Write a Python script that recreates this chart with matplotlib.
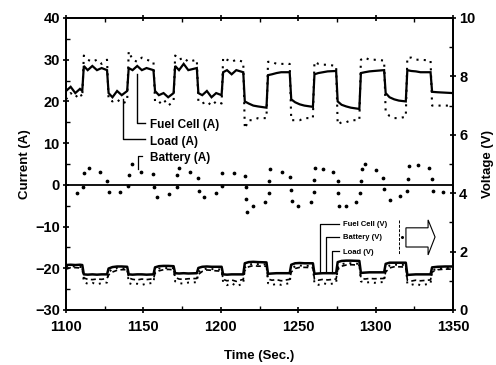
import matplotlib
matplotlib.use("Agg")
import matplotlib.pyplot as plt
from matplotlib.patches import Polygon
from matplotlib.ticker import MultipleLocator

plt.rcParams['font.family'] = ['Liberation Sans', 'DejaVu Sans']
plt.rcParams['font.weight'] = 'bold'

# sample times (s), dense around each load step
time_s = [1100, 1103, 1106, 1109, 1110.5,
          1111.5, 1114, 1117, 1120, 1123, 1126.5,
          1127.5, 1130, 1133, 1136, 1139.5,
          1140.5, 1143, 1146, 1149, 1152, 1156.5,
          1157.5, 1160, 1163, 1166, 1169.5,
          1170.5, 1173, 1176, 1179, 1184.5,
          1185.5, 1188, 1191, 1194, 1197, 1200.5,
          1201.5, 1204, 1207, 1210, 1214.5,
          1215.5, 1218, 1221, 1224, 1229.5,
          1230.5, 1233, 1236, 1239, 1244.5,
          1245.5, 1248, 1251, 1254, 1259.5,
          1260.5, 1263, 1266, 1269, 1274.5,
          1275.5, 1278, 1281, 1284, 1289.5,
          1290.5, 1293, 1296, 1299, 1305.5,
          1306.5, 1309, 1312, 1315, 1319.5,
          1320.5, 1323, 1326, 1329, 1335.5,
          1336.5, 1340, 1345, 1350]

# currents (A)
fuel_cell_a = [22.5, 23.5, 22, 23, 22.5,
               28.5, 27.5, 28.5, 27.5, 28, 27.5,
               22, 21, 22.5, 21.5, 22.5,
               28, 27.5, 28.5, 27.5, 28, 27.5,
               22.5, 21.5, 22, 21, 22,
               28.5, 27.5, 29, 27.5, 28,
               22, 21.5, 22.5, 21, 22, 21.5,
               27, 27.5, 26.5, 27.5, 27,
               20, 19.5, 19, 18.8, 18.5,
               26.3, 26.5, 26.8, 27, 27,
               20.5, 19.8, 19.3, 19, 18.7,
               26.5, 26.8, 27, 27.2, 27.3,
               20, 19.2, 18.8, 18.5, 18.2,
               26.8, 27, 27.2, 27.3, 27.5,
               22, 21, 20.5, 20.2, 20,
               27.5, 27.3, 27.2, 27, 27,
               22.3, 22.2, 22.1, 22]

load_a = [20.5, 22, 21, 22, 21,
          31, 30, 29.5, 30, 29, 30,
          20.5, 20, 20.5, 19.5, 20,
          32, 30, 29.5, 30.5, 30, 29.5,
          20, 19.5, 20.5, 19, 20,
          31, 30, 30.5, 29.5, 30,
          20, 19.5, 20, 19, 20, 19.5,
          30.5, 30, 29.5, 30, 29.5,
          13.5, 15.5, 15.5, 16, 16,
          29.5, 29.5, 29, 29, 29,
          15.5, 15.5, 15.5, 16, 16,
          29.5, 29, 28.8, 28.8, 28.5,
          14.5, 15, 15, 15.5, 15.5,
          30, 30.5, 30, 30, 29.8,
          17.5, 16.5, 16, 16, 16.3,
          30.5, 30.5, 30, 30, 29.8,
          19, 19, 19, 19]

battery_t = [1107, 1111, 1111.6, 1115, 1122, 1126.7, 1127.7, 1135, 1140, 1140.7,
             1142.4, 1148.4, 1156, 1157, 1158.5, 1166.5, 1171.5, 1172, 1173, 1180,
             1185, 1186, 1189, 1197, 1200.5, 1201, 1208.7, 1215.6, 1216, 1216.3,
             1216.6, 1221, 1228.5, 1231, 1231.3, 1232, 1239.7, 1245, 1245.5, 1246,
             1250, 1258, 1260, 1260.5, 1261, 1265.7, 1272.6, 1275.4, 1275.8, 1276.5,
             1280.7, 1287.2, 1289.8, 1290.5, 1291, 1293, 1300.5, 1305, 1305.7, 1309,
             1315.6, 1320, 1320.8, 1321.6, 1327.5, 1334.4, 1336.5, 1337, 1343.7]
battery_a = [-2.0, -0.4, 2.8, 4.0, 3.0, 1.0, -1.8, -1.8, -0.3, 2.4,
             5.0, 3.2, 2.6, -0.5, -2.8, -2.1, -0.5, 2.4, 4.0, 3.0,
             1.6, -1.4, -2.8, -2.0, -0.2, 2.9, 2.9, 2.2, -0.6, -3.5,
             -6.5, -5.0, -4.0, -2.0, 1.0, 3.8, 3.2, 1.8, -1.2, -3.8,
             -5.0, -4.0, -1.7, 1.2, 4.1, 3.8, 3.2, 1.0, -2.0, -5.0,
             -5.0, -4.0, -2.0, 1.0, 3.8, 5.0, 3.5, 1.6, -1.1, -3.6,
             -2.7, -1.4, 1.5, 4.6, 4.8, 4.0, 1.4, -1.5, -1.8]

# voltages (V), right axis
fuel_cell_v = [1.54, 1.55, 1.54, 1.55, 1.54,
               1.22, 1.21, 1.22, 1.21, 1.22, 1.22,
               1.42, 1.47, 1.49, 1.49, 1.48,
               1.22, 1.21, 1.22, 1.22, 1.21, 1.22,
               1.46, 1.5, 1.51, 1.51, 1.5,
               1.26, 1.25, 1.26, 1.25, 1.26,
               1.44, 1.48, 1.49, 1.48, 1.48, 1.48,
               1.22, 1.21, 1.22, 1.22, 1.22,
               1.6, 1.64, 1.65, 1.64, 1.63,
               1.24, 1.25, 1.26, 1.26, 1.26,
               1.55, 1.6, 1.61, 1.6, 1.6,
               1.24, 1.25, 1.26, 1.26, 1.26,
               1.64, 1.68, 1.69, 1.69, 1.68,
               1.27, 1.28, 1.29, 1.29, 1.29,
               1.58, 1.62, 1.62, 1.62, 1.62,
               1.2, 1.21, 1.22, 1.22, 1.22,
               1.46, 1.48, 1.49, 1.49]

battery_v = [1.4, 1.45, 1.45, 1.44, 1.42,
             1.1, 1.05, 1.04, 1.06, 1.05, 1.08,
             1.2, 1.3, 1.36, 1.38, 1.38,
             1.1, 1.05, 1.03, 1.06, 1.04, 1.07,
             1.25, 1.34, 1.38, 1.39, 1.38,
             1.12, 1.06, 1.05, 1.07, 1.08,
             1.22, 1.32, 1.37, 1.36, 1.34, 1.33,
             1.05, 1.0, 1.03, 0.98, 1.05,
             1.35, 1.48, 1.52, 1.5, 1.5,
             1.06, 1.02, 1.04, 1.0, 1.05,
             1.3, 1.42, 1.46, 1.46, 1.45,
             1.05, 1.02, 1.05, 1.03, 1.06,
             1.38, 1.5, 1.54, 1.55, 1.54,
             1.1, 1.06, 1.08, 1.07, 1.08,
             1.3, 1.44, 1.48, 1.48, 1.47,
             1.02, 0.99, 1.02, 1.0, 1.03,
             1.3, 1.38, 1.4, 1.4]

load_v = [1.5, 1.48, 1.5, 1.47, 1.48,
          0.95, 0.9, 0.93, 0.88, 0.92, 0.94,
          1.3, 1.4, 1.44, 1.42, 1.43,
          0.92, 0.88, 0.9, 0.86, 0.9, 0.93,
          1.35, 1.42, 1.43, 1.44, 1.43,
          0.98, 0.92, 0.9, 0.94, 0.95,
          1.3, 1.38, 1.42, 1.4, 1.4, 1.38,
          0.95, 0.85, 0.92, 0.82, 0.9,
          1.45, 1.55, 1.58, 1.57, 1.56,
          0.92, 0.85, 0.9, 0.86, 0.92,
          1.4, 1.5, 1.52, 1.52, 1.5,
          0.9, 0.86, 0.92, 0.88, 0.92,
          1.45, 1.57, 1.6, 1.6, 1.58,
          0.98, 0.94, 0.95, 0.93, 0.96,
          1.4, 1.52, 1.55, 1.55, 1.54,
          0.9, 0.86, 0.9, 0.85, 0.9,
          1.35, 1.42, 1.44, 1.44]

fig = plt.figure(figsize=(4.96, 3.65), dpi=100)
ax = fig.add_axes([0.1331, 0.1507, 0.7802, 0.8])
ax2 = ax.twinx()

# current traces
ax.plot(time_s, fuel_cell_a, color='black', lw=1.6, solid_joinstyle='miter')
ax.plot(time_s, load_a, color='black', lw=1.5, linestyle=(0, (1, 2.5)))
ax.plot(battery_t, battery_a, 'o', color='black', ms=1.7)
ax.axhline(0, color='black', lw=1.3)

# voltage traces
ax2.plot(time_s, fuel_cell_v, color='black', lw=1.8)
ax2.plot(time_s, battery_v, color='black', lw=1.2, linestyle=(0, (3, 2)))
ax2.plot(time_s, load_v, color='black', lw=1.4, linestyle=(0, (1, 2.5)))

ax.set_xlim(1100, 1350)
ax.set_ylim(-30, 40)
ax2.set_ylim(0, 10)
ax.xaxis.set_major_locator(MultipleLocator(50))
ax.xaxis.set_minor_locator(MultipleLocator(25))
ax.yaxis.set_major_locator(MultipleLocator(10))
ax.yaxis.set_minor_locator(MultipleLocator(5))
ax2.yaxis.set_major_locator(MultipleLocator(2))
ax2.yaxis.set_minor_locator(MultipleLocator(1))

ax.tick_params(which='major', direction='inout', length=5, width=1.2,
               labelsize=10.5, top=True, pad=2)
ax.tick_params(axis='x', which='major', pad=5)
ax.tick_params(which='minor', direction='in', length=3, width=1, top=True)
ax2.tick_params(which='major', direction='inout', length=5, width=1.2,
                labelsize=10.5, pad=2)
ax2.tick_params(which='minor', direction='in', length=3, width=1)
for a in (ax, ax2):
    for s in a.spines.values():
        s.set_linewidth(1.3)

ax.set_xlabel('Time (Sec.)', fontsize=9.5, fontweight='bold', labelpad=11)
ax.set_ylabel('Current (A)', fontsize=9.5, fontweight='bold', labelpad=3)
ax2.set_ylabel('Voltage (V)', fontsize=9.5, fontweight='bold', rotation=90, labelpad=5)

# upper labels with leader lines
lk = dict(color='black', lw=1.0)
ax.plot([1145.6, 1145.6, 1151], [26.5, 14.8, 14.8], **lk)
ax.plot([1136.6, 1136.6, 1151], [20.5, 11.0, 11.0], **lk)
ax.plot([1149, 1146.3, 1146.3], [6.9, 6.9, 3.8], color='black', lw=0.9)
ax.text(1154, 14.3, 'Fuel Cell (A)', fontsize=8.5, va='center')
ax.text(1154, 10.3, 'Load (A)', fontsize=8.5, va='center')
ax.text(1154, 6.4, 'Battery (A)', fontsize=8.5, va='center')

# lower labels with leader lines
ax.plot([1264, 1264, 1276.5], [-20.9, -9.4, -9.4], color='black', lw=0.9)
ax.plot([1268, 1268, 1276.5], [-21.0, -12.5, -12.5], color='black', lw=0.9)
ax.plot([1271.8, 1271.8, 1276.5], [-21.1, -15.9, -15.9], color='black', lw=0.9)
ax.text(1279, -9.6, 'Fuel Cell (V)', fontsize=5.5, va='center')
ax.text(1279, -12.7, 'Battery (V)', fontsize=5.5, va='center')
ax.text(1279, -16.1, 'Load (V)', fontsize=5.5, va='center')
ax.plot([1315, 1315], [-8.4, -16.8], color='black', lw=0.7, linestyle=(0, (3, 1.5)))
ax.plot([1317], [-12.5], 'o', color='black', ms=1.2)
arrow = Polygon([(1319.6, -10.3), (1333.9, -10.3), (1333.9, -8.4), (1338.4, -12.5),
                 (1333.9, -16.8), (1333.9, -14.9), (1319.6, -14.9)],
                closed=True, fill=False, edgecolor='black', lw=0.8)
ax.add_patch(arrow)

fig.savefig('out.png', dpi=100)
